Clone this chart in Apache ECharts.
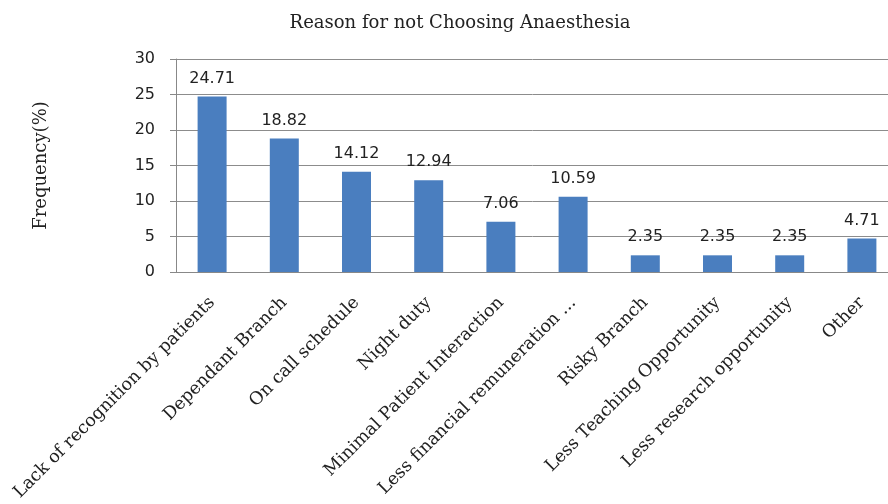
<!DOCTYPE html>
<html>
<head>
<meta charset="utf-8">
<script src="https://cdn.jsdelivr.net/npm/echarts@6/dist/echarts.min.js"></script>
<style>html,body{margin:0;padding:0;background:#fff;}#c{width:888px;height:504px;}</style>
</head>
<body>
<div id="c"></div>
<script>
var categories = ["Lack of recognition by patients", "Dependant Branch", "On call schedule", "Night duty", "Minimal Patient Interaction", "Less financial remuneration ...", "Risky Branch", "Less Teaching Opportunity", "Less research opportunity", "Other"];
var frequency = [24.71, 18.82, 14.12, 12.94, 7.06, 10.59, 2.35, 2.35, 2.35, 4.71];
var titleText = "Reason for not Choosing Anaesthesia";
var yAxisName = "Frequency(%)";

var chart = echarts.init(document.getElementById('c'), null, {renderer: 'canvas'});
chart.setOption({
  backgroundColor: '#ffffff',
  animation: false,
  title: {
    text: titleText,
    left: 455, top: 9, textAlign: 'center',
    textStyle: {fontFamily: 'DejaVu Serif', fontWeight: 'normal', fontSize: 18, color: '#222'}
  },
  grid: {left: 176, width: 722, top: 59, height: 213, containLabel: false, outerBoundsMode: 'none'},
  xAxis: {
    type: 'category',
    data: categories,
    axisLine: {lineStyle: {color: '#888', width: 1}},
    axisTick: {show: false},
    axisLabel: {
      rotate: 45, interval: 0, margin: 28,
      fontFamily: 'DejaVu Serif', fontSize: 17.5, color: '#222'
    }
  },
  yAxis: {
    type: 'value', min: 0, max: 30, interval: 5,
    name: yAxisName, nameLocation: 'middle', nameGap: 126, nameRotate: 90,
    nameTextStyle: {fontFamily: 'DejaVu Serif', fontSize: 18, color: '#222'},
    axisLine: {show: true, lineStyle: {color: '#888', width: 1}},
    axisTick: {show: true, inside: false, length: 6, lineStyle: {color: '#888'}},
    axisLabel: {margin: 21, fontFamily: 'DejaVu Sans', fontSize: 16, color: '#222'},
    splitLine: {show: true, lineStyle: {color: '#8c8c8c', width: 1}}
  },
  series: [{
    type: 'bar',
    data: frequency,
    barWidth: 29,
    itemStyle: {color: '#4A7EBF'},
    label: {
      show: true, position: 'top', distance: 10,
      fontFamily: 'DejaVu Sans', fontSize: 16, color: '#222',
      formatter: function (p) { return p.value.toFixed(2); }
    }
  }]
});
</script>
</body>
</html>
